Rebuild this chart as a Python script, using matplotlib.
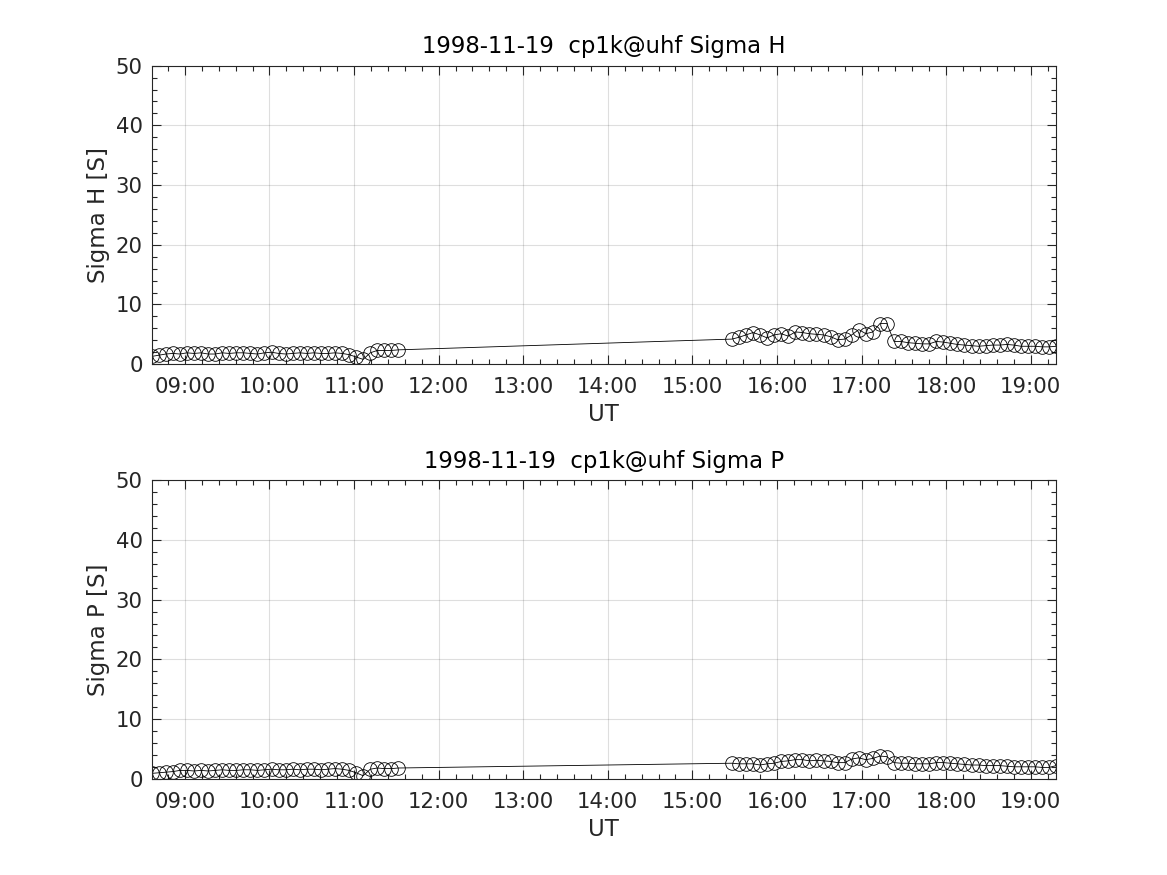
import matplotlib
matplotlib.use("Agg")
import matplotlib.pyplot as plt
import matplotlib.dates as mdates
from matplotlib.ticker import MultipleLocator
import datetime as dt

date_str = "1998-11-19"
site = "cp1k@uhf"

times_seg1 = ["08:36:30", "08:41:30", "08:46:30", "08:51:30", "08:56:30", "09:01:30",
              "09:06:30", "09:11:30", "09:16:30", "09:21:30", "09:26:30", "09:31:30",
              "09:36:30", "09:41:30", "09:46:30", "09:51:30", "09:56:30", "10:01:30",
              "10:06:30", "10:11:30", "10:16:30", "10:21:30", "10:26:30", "10:31:30",
              "10:36:30", "10:41:30", "10:46:30", "10:51:30", "10:56:30", "11:01:30",
              "11:06:30", "11:11:30", "11:16:30", "11:21:30", "11:26:30", "11:31:30"]
times_seg2 = ["15:28:00", "15:33:00", "15:38:00", "15:43:00", "15:48:00", "15:53:00",
              "15:58:00", "16:03:00", "16:08:00", "16:13:00", "16:18:00", "16:23:00",
              "16:28:00", "16:33:00", "16:38:00", "16:43:00", "16:48:00", "16:53:00",
              "16:58:00", "17:03:00", "17:08:00", "17:13:00", "17:18:00", "17:23:00",
              "17:28:00", "17:33:00", "17:38:00", "17:43:00", "17:48:00", "17:53:00",
              "17:58:00", "18:03:00", "18:08:00", "18:13:00", "18:18:00", "18:23:00",
              "18:28:00", "18:33:00", "18:38:00", "18:43:00", "18:48:00", "18:53:00",
              "18:58:00", "19:03:00", "19:08:00", "19:13:00", "19:18:00"]

sigma_h_seg1 = [1.3, 1.5, 1.7, 1.8, 1.7, 1.9, 1.8, 1.9, 1.7, 1.7, 1.9, 1.8,
                1.9, 1.9, 1.8, 1.7, 1.9, 2.0, 1.8, 1.7, 1.8, 1.9, 1.8, 1.9,
                1.8, 1.8, 1.9, 1.8, 1.6, 1.2, 0.8, 1.9, 2.3, 2.3, 2.3, 2.4]
sigma_h_seg2 = [4.2, 4.5, 4.9, 5.3, 4.9, 4.4, 4.9, 5.1, 4.7, 5.4, 5.3, 5.1,
                5.0, 4.9, 4.6, 4.1, 4.2, 4.9, 5.8, 5.1, 5.4, 6.8, 6.8, 3.8,
                3.8, 3.6, 3.5, 3.4, 3.4, 3.8, 3.7, 3.5, 3.3, 3.2, 3.1, 3.0,
                3.1, 3.2, 3.2, 3.3, 3.2, 3.0, 3.0, 3.0, 2.9, 2.9, 3.0]

sigma_p_seg1 = [0.9, 1.0, 1.1, 1.2, 1.4, 1.4, 1.3, 1.4, 1.3, 1.4, 1.5, 1.4,
                1.4, 1.5, 1.5, 1.4, 1.5, 1.6, 1.5, 1.5, 1.6, 1.5, 1.6, 1.6,
                1.5, 1.6, 1.7, 1.6, 1.4, 1.0, 0.5, 1.6, 1.8, 1.7, 1.7, 1.8]
sigma_p_seg2 = [2.6, 2.5, 2.5, 2.5, 2.3, 2.5, 2.6, 2.9, 3.0, 3.2, 3.2, 3.0,
                3.1, 3.0, 2.9, 2.7, 2.7, 3.3, 3.5, 3.2, 3.4, 3.8, 3.7, 2.7,
                2.6, 2.6, 2.5, 2.5, 2.5, 2.7, 2.7, 2.6, 2.5, 2.4, 2.3, 2.3,
                2.2, 2.2, 2.2, 2.1, 2.0, 2.0, 2.0, 2.0, 1.9, 1.9, 2.2]

panels = [("Sigma H", "Sigma H [S]", sigma_h_seg1 + sigma_h_seg2),
          ("Sigma P", "Sigma P [S]", sigma_p_seg1 + sigma_p_seg2)]

day = dt.datetime.strptime(date_str, "%Y-%m-%d")
times = [dt.datetime.combine(day.date(), dt.datetime.strptime(t, "%H:%M:%S").time())
         for t in times_seg1 + times_seg2]

dark = (0.15, 0.15, 0.15)
plt.rcParams['font.family'] = ['DejaVu Sans']

fig = plt.figure(figsize=(11.67, 8.75), dpi=100)
positions = [[0.13, 0.5838, 0.775, 0.3412], [0.13, 0.11, 0.775, 0.3412]]

for pos, (name, ylabel, vals) in zip(positions, panels):
    ax = fig.add_axes(pos)
    ax.plot(times, vals, '-', color='black', linewidth=0.6,
            marker='o', markersize=9.8, markerfacecolor='none',
            markeredgecolor='black', markeredgewidth=0.6)
    ax.set_xlim(times[0], times[-1])
    ax.set_ylim(0, 50)
    ax.yaxis.set_major_locator(MultipleLocator(10))
    ax.yaxis.set_minor_locator(MultipleLocator(2))
    ax.xaxis.set_major_locator(mdates.HourLocator())
    ax.xaxis.set_minor_locator(mdates.MinuteLocator(byminute=[12, 24, 36, 48]))
    ax.xaxis.set_major_formatter(mdates.DateFormatter("%H:%M"))
    ax.grid(True, which='major', color=dark, alpha=0.15, linewidth=0.8)
    ax.set_axisbelow(True)
    ax.tick_params(which='both', direction='in', top=True, right=True,
                   colors=dark, labelsize=15.3, width=0.8)
    ax.tick_params(which='major', length=6.5)
    ax.tick_params(which='minor', length=3.3)
    ax.tick_params(axis='x', which='major', pad=9.5)
    ax.tick_params(axis='y', which='major', pad=6.5)
    for sp in ax.spines.values():
        sp.set_color(dark)
        sp.set_linewidth(0.8)
    ax.set_xlabel("UT", fontsize=16.5, color=dark, labelpad=4)
    ax.set_ylabel(ylabel, fontsize=16.5, color=dark, labelpad=4)
    ax.set_title(f"{date_str}  {site} {name}", fontsize=16.4, color='black', pad=9)

fig.savefig("out.png", dpi=100)
